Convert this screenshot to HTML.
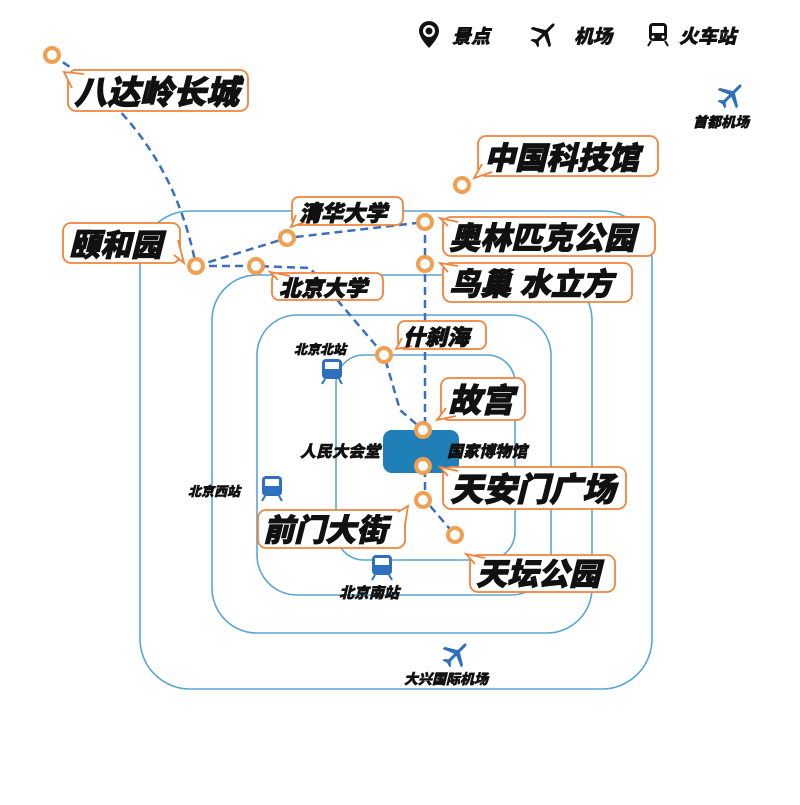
<!DOCTYPE html>
<html><head><meta charset="utf-8"><style>
body{margin:0;background:#fff}
svg text{font-family:"Liberation Sans","Noto Sans CJK SC",sans-serif;font-weight:900}
.lbl{font-style:italic;fill:#111;stroke:#111;stroke-width:0.9}
.sm{font-style:italic;fill:#111;stroke:#111;stroke-width:0.5}
</style></head><body>
<svg width="800" height="800" viewBox="0 0 800 800" xmlns="http://www.w3.org/2000/svg">
<defs>
<path id="pl" d="M-1.5,-13 Q0,-16 1.5,-13 L1.5,-4 L13,3 L13,6 L1.5,1 L1.5,9 L5,12 L5,14 L0,12.5 L-5,14 L-5,12 L-1.5,9 L-1.5,1 L-13,6 L-13,3 L-1.5,-4Z"/>
</defs>
<g fill="none" stroke="#5aa6d2" stroke-width="1.6">
<rect x="140" y="211" width="512" height="478" rx="50"/>
<rect x="212" y="275" width="380" height="358" rx="45"/>
<rect x="257" y="315" width="294" height="280" rx="40"/>
<rect x="336" y="355" width="179" height="205" rx="28"/>
</g>
<rect x="383" y="430" width="76" height="43" rx="9" fill="#1f80b8"/>
<g fill="none" stroke="#3a6fc0" stroke-width="2.5" stroke-dasharray="8,5">
<path d="M52,55 Q170,130 196,266"/>
<path d="M196,266 L287,238 L425,222"/>
<path d="M196,266 L256,266 L310,268 L384,355 L400,410 L423,430"/>
<path d="M425,222 L425,500 L455,535"/>
</g>
<g>
<text x="452" y="43" font-size="19" class="sm">景点</text>
<text x="574" y="43" font-size="19" class="sm">机场</text>
<text x="679" y="43" font-size="19" class="sm">火车站</text>
<text x="693" y="127" font-size="14" class="sm">首都机场</text>
<text x="404" y="684" font-size="14" class="sm">大兴国际机场</text>
<text x="294" y="354" font-size="13" class="sm">北京北站</text>
<text x="188" y="496" font-size="13" class="sm">北京西站</text>
<text x="339" y="598" font-size="15" class="sm">北京南站</text>
<text x="300" y="457" font-size="16" class="sm">人民大会堂</text>
<text x="447" y="457" font-size="16" class="sm">国家博物馆</text>
</g>
<path d="M429,21 a10,10 0 0 1 10,10 c0,7 -10,17 -10,17 c0,0 -10,-10 -10,-17 a10,10 0 0 1 10,-10z" fill="#111"/>
<circle cx="429" cy="31" r="6" fill="#fff"/><circle cx="429" cy="31" r="3.5" fill="#111"/>
<use href="#pl" transform="translate(544,34) rotate(45)" fill="#111"/>
<use href="#pl" transform="translate(731,95) rotate(45)" fill="#2f6fbf"/>
<use href="#pl" transform="translate(456,654) rotate(45)" fill="#2f6fbf"/>
<g>
<rect x="649" y="23" width="18" height="18" rx="4" fill="#111"/><rect x="652" y="26" width="12" height="7" fill="#fff"/>
<circle cx="653" cy="37" r="1.5" fill="#fff"/><circle cx="663" cy="37" r="1.5" fill="#fff"/>
<path d="M651,41 l-3,5 M665,41 l3,5" stroke="#111" stroke-width="2"/>
</g>
<g fill="#2f6fbf">
<rect x="322" y="359" width="20" height="20" rx="4"/><rect x="325" y="362" width="14" height="7" fill="#fff"/><path d="M325,379 l-3,5 M339,379 l3,5" stroke="#2f6fbf" stroke-width="2"/>
<rect x="262" y="476" width="20" height="20" rx="4"/><rect x="265" y="479" width="14" height="7" fill="#fff"/><path d="M265,496 l-3,5 M279,496 l3,5" stroke="#2f6fbf" stroke-width="2"/>
<rect x="372" y="555" width="20" height="20" rx="4"/><rect x="375" y="558" width="14" height="7" fill="#fff"/><path d="M375,575 l-3,5 M389,575 l3,5" stroke="#2f6fbf" stroke-width="2"/>
</g>
<g fill="#fff" stroke="#f0a050" stroke-width="4">
<circle cx="52" cy="55" r="7"/><circle cx="196" cy="266" r="7"/><circle cx="287" cy="238" r="7"/>
<circle cx="256" cy="266" r="7"/><circle cx="462" cy="185" r="7"/><circle cx="425" cy="222" r="7"/>
<circle cx="425" cy="264" r="7"/><circle cx="384" cy="355" r="7"/><circle cx="423" cy="430" r="7"/>
<circle cx="423" cy="466" r="7"/><circle cx="423" cy="500" r="7"/><circle cx="455" cy="535" r="7"/>
</g>
<g fill="#fff" stroke="#f0843c" stroke-width="1.8">
<rect x="68" y="70" width="180" height="41" rx="8"/><path d="M72,88 L64,72 L84,74"/>
<rect x="63" y="223" width="117" height="40" rx="8"/><path d="M174,255 L184,263 L178,240"/>
<rect x="292" y="197" width="111" height="28" rx="7"/><path d="M296,215 L291,227 L305,222"/>
<rect x="272" y="273" width="111" height="27" rx="7"/><path d="M278,280 L270,272 L290,276"/>
<rect x="478" y="136" width="180" height="40" rx="8"/><path d="M482,164 L474,178 L492,172"/>
<rect x="443" y="217" width="212" height="39" rx="8"/><path d="M448,226 L440,218 L458,222"/>
<rect x="443" y="263" width="189" height="39" rx="8"/><path d="M448,272 L440,263 L458,266"/>
<rect x="398" y="321" width="88" height="28" rx="7"/><path d="M402,338 L396,349 L412,346"/>
<rect x="441" y="378" width="84" height="42" rx="8"/><path d="M446,408 L437,420 L456,416"/>
<rect x="443" y="467" width="183" height="42" rx="8"/><path d="M448,476 L440,467 L458,471"/>
<rect x="258" y="510" width="147" height="38" rx="8"/><path d="M398,512 L408,506 L405,525"/>
<rect x="470" y="555" width="145" height="37" rx="8"/><path d="M475,564 L466,554 L485,558"/>
</g>
<g class="lbl">
<text x="74" y="104" font-size="33">八达岭长城</text>
<text x="69" y="256" font-size="31">颐和园</text>
<text x="299" y="221" font-size="22">清华大学</text>
<text x="279" y="296" font-size="22">北京大学</text>
<text x="484" y="169" font-size="31">中国科技馆</text>
<text x="449" y="249" font-size="31">奥林匹克公园</text>
<text x="449" y="295" font-size="31">鸟巢 水立方</text>
<text x="403" y="345" font-size="22">什刹海</text>
<text x="448" y="412" font-size="33">故宫</text>
<text x="450" y="501" font-size="33">天安门广场</text>
<text x="263" y="541" font-size="31">前门大街</text>
<text x="476" y="585" font-size="31">天坛公园</text>
</g>
</svg>
</body></html>
